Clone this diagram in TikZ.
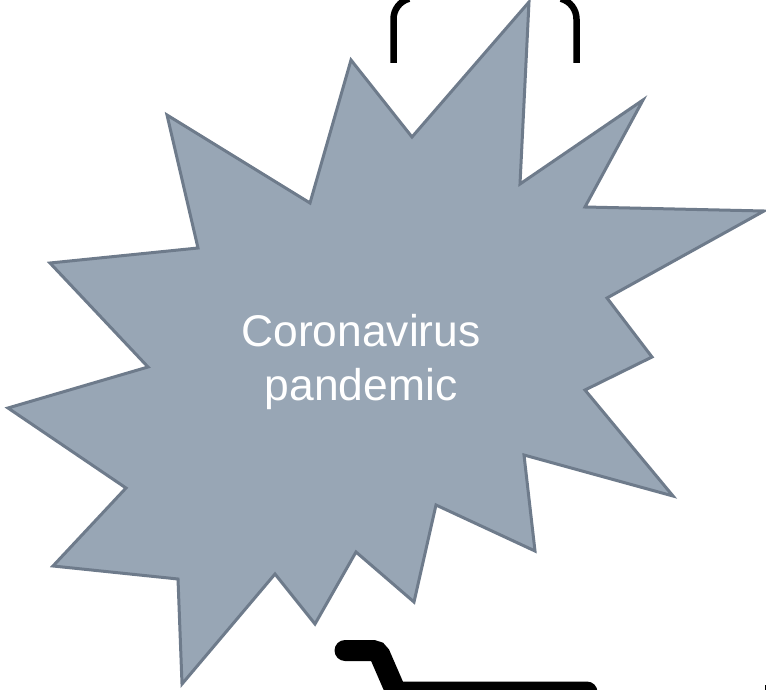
\documentclass[tikz,border=0pt]{standalone}
\usepackage{fontspec}
\setmainfont{Liberation Sans}
\definecolor{starfill}{HTML}{98A6B5}
\definecolor{starline}{HTML}{6E7B8B}
\begin{document}
\begin{tikzpicture}[
        x=1pt, y=-1pt,
        burst/.style={draw=starline, fill=starfill, line width=3pt, line join=miter, miter limit=20},
        handle/.style={line width=6.5pt, black},
        cartline/.style={line width=21pt, black, line cap=round, rounded corners=5pt},
        label/.style={text=white, align=center, font=\fontsize{44.4}{54}\selectfont}
    ]
    \useasboundingbox (0,0) rectangle (766,690);
    \begin{scope}
    \clip (0,0) rectangle (766,690);

    % Bag handle
    \draw[handle] (393.5,63) -- (393.5,19) arc[start angle=180, end angle=255, radius=21];
    \draw[handle] (576.5,63) -- (576.5,19) arc[start angle=0, end angle=-75, radius=21];

    % Burst
    \draw[burst] (529,2) -- (412,137) -- (351,60) -- (310,203) -- (167,115) -- (198,248)
        -- (50,263) -- (148,367) -- (8,408) -- (126,488) -- (53,566) -- (178,579)
        -- (182,684) -- (275,574) -- (315,624) -- (356,552) -- (414,602) -- (436,505)
        -- (535,551) -- (524,455) -- (673,496) -- (585,390) -- (652,357) -- (607,298)
        -- (764,211) -- (585,207) -- (643,100) -- (520,184) -- cycle;

    % Cart
    \draw[cartline] (345,650.5) -- (378,650.5) -- (396,692) -- (587,692);
    \fill (764.5,685) rectangle (766,690);
    \end{scope}

    % Label
    \node[label] (pandemic) at (361,362) {Coronavirus\\pandemic};

    \end{tikzpicture}
\end{document}
